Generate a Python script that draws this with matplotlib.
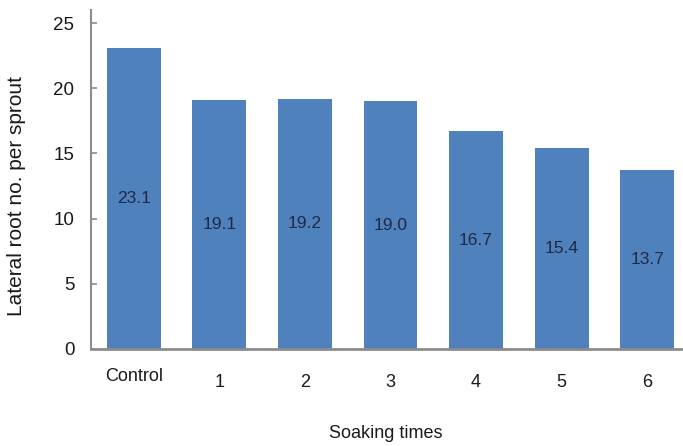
import matplotlib
matplotlib.use('Agg')
import matplotlib.pyplot as plt
import matplotlib.transforms as mtrans

# lateral root count per sprout vs number of soaking times
categories = ['Control', '1', '2', '3', '4', '5', '6']
root_no = [23.1, 19.1, 19.2, 19.0, 16.7, 15.4, 13.7]

plt.rcParams['font.family'] = ['Liberation Sans', 'DejaVu Sans']

fig = plt.figure(figsize=(6.83, 4.46), dpi=100)
ax = fig.add_axes([0.1332, 0.2175, 0.877, 0.760])

x = range(len(categories))
bars = ax.bar(x, root_no, width=0.63, color='#4F81BD')

for xi, v in zip(x, root_no):
    ax.text(xi, v / 2, '%.1f' % v, ha='center', va='center',
            fontsize=12.5, color='#1F2A44')

ax.set_xlim(-0.5, 6.5)
ax.set_ylim(0, 26)
ax.set_yticks([0, 5, 10, 15, 20, 25])

for s in ['top', 'right']:
    ax.spines[s].set_visible(False)
ax.spines['left'].set_color('#8C8C8C')
ax.spines['left'].set_linewidth(1.5)
ax.spines['bottom'].set_color('#8C8C8C')
ax.spines['bottom'].set_linewidth(2)

ax.tick_params(axis='y', direction='in', length=4, width=1.2, color='#8C8C8C',
               pad=12, labelsize=13.5, labelcolor='#1a1a1a')
ax.set_xticks([])

# category labels below the axis, Control sits a little higher
trans = mtrans.blended_transform_factory(ax.transData, ax.transAxes)
for xi, lab in zip(x, categories):
    yy = -0.080 if lab == 'Control' else -0.100
    ax.text(xi, yy, lab, transform=trans, ha='center', va='center',
            fontsize=13, color='#1a1a1a')

ax.text(0.492, -0.248, 'Soaking times', transform=ax.transAxes,
        ha='center', va='center', fontsize=13, color='#1a1a1a')
ax.text(-0.124, 0.450, 'Lateral root no. per sprout', transform=ax.transAxes,
        ha='center', va='center', rotation=90, fontsize=15, color='#1a1a1a')

fig.savefig('out.png', dpi=100)
